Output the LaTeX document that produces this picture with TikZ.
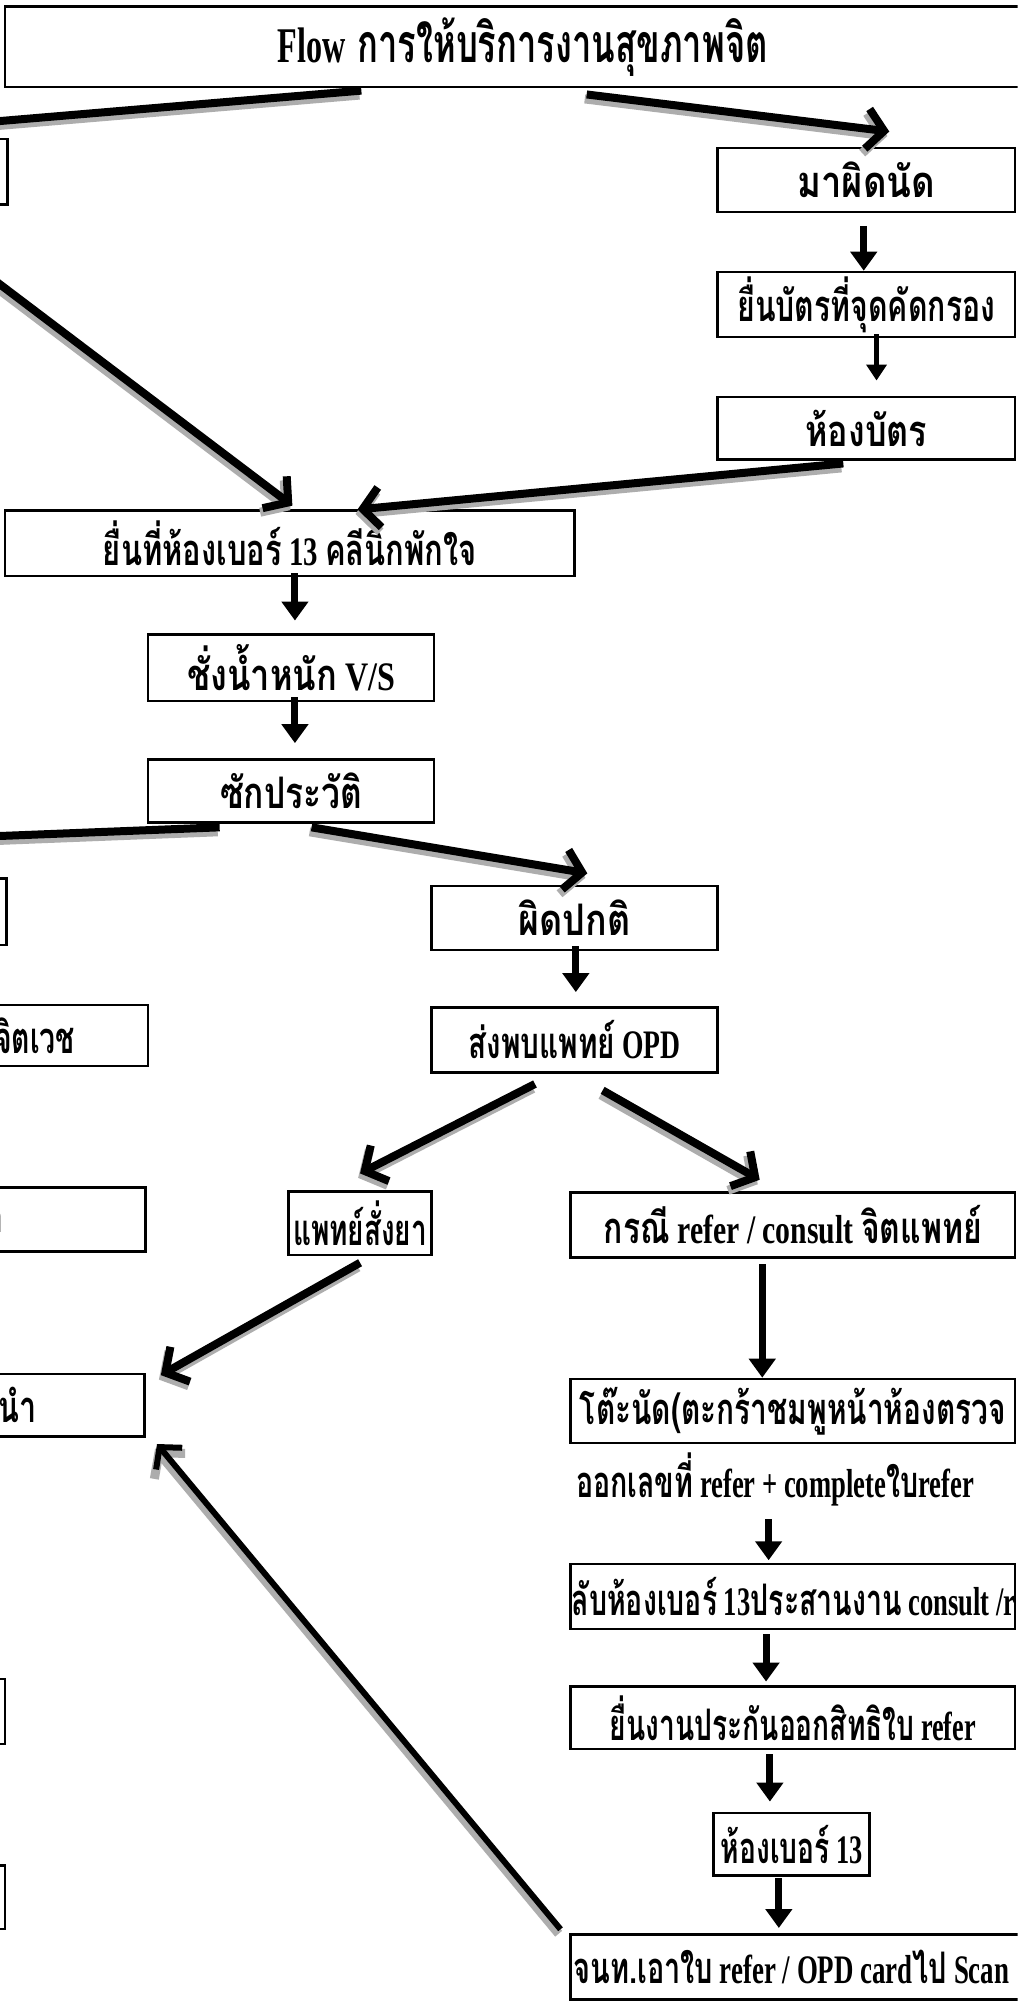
\documentclass[tikz,border=0pt]{standalone}
\usepackage{fontspec}
\usepackage{graphicx}
\setmainfont{Liberation Serif}[Scale=1.35]
\newfontfamily\thf[Script=Thai,Scale=1.45]{Loma}
\usetikzlibrary{arrows.meta,calc}
\newcommand\tha[1]{{\thf #1}}
\newcommand\fw[2]{\resizebox{#1pt}{\height}{#2}}
\tikzset{
  x=1.2773pt, y=-1.2773pt,
  boxfont/.style={font=\bfseries\fontsize{30}{34}\selectfont},
  box/.style={draw=black, line width=2.5pt, inner sep=0pt, boxfont},
  lbl/.style={inner sep=0pt, boxfont},
  bigarrow/.style={line width=8pt, -{Straight Barb[length=17pt,width=40pt]}},
  thinarrow/.style={line width=6pt, -{Straight Barb[length=15pt,width=34pt]}},
  shadowline/.style={draw=black!32, line width=9pt, -{Straight Barb[length=17pt,width=40pt]}},
  varrow/.style={line width=7pt, -{Triangle[length=19pt,width=26pt]}},
  varrowb/.style={line width=5.5pt, -{Triangle[length=16pt,width=20pt]}},
}
\newcommand\bx[6]{\node[box,minimum width=#4*1.2773pt,minimum height=#5*1.2773pt] (#1) at (#2,#3) {#6};}
\newcommand\sarrow[3][bigarrow]{%
  \draw[shadowline] ($#2+(-1.5,3.5)$) -- ($#3+(-1.5,3.5)$);
  \draw[#1] #2 -- #3;}
\begin{document}
\begin{tikzpicture}
\clip (0,0) rectangle (797,1568);
\fill[white] (0,0) rectangle (797,1568);
% boxes
\node[box,minimum width=811*1.2773pt,minimum height=63*1.2773pt,font=\bfseries\fontsize{37}{40}\selectfont] (title) at (409.5,36.5)
  {\fw{490}{Flow\hspace{18pt}\tha{การให้บริการงานสุขภาพจิต}}};
\bx{L1}{-97}{134.5}{206}{51}{}
\bx{ma}{678.5}{141}{233}{50}{\fw{138}{\tha{มาผิดนัด}}}
\bx{yb}{678.5}{238.5}{233}{51}{\fw{258}{\tha{ยื่นบัตรที่จุดคัดกรอง}}}
\bx{hb}{678.5}{335.5}{233}{49}{\fw{122}{\tha{ห้องบัตร}}}
\bx{y13}{227}{425.5}{446}{51}{\fw{374}{\tha{ยื่นที่ห้องเบอร์} 13 \tha{คลีนิกพักใจ}}}
\bx{vs}{228}{523}{224}{52}{\fw{208}{\tha{ชั่งน้ำหนัก}\hspace{10pt}V/S}}
\bx{sak}{228}{619.5}{224}{49}{\fw{142}{\tha{ซักประวัติ}}}
\bx{L2}{-97.5}{714}{205}{52}{}
\bx{pp}{450}{719}{224}{50}{\fw{112}{\tha{ผิดปกติ}}}
\bx{opd}{450}{814.5}{224}{51}{\fw{212}{\tha{ส่งพบแพทย์} OPD}}
\bx{L3}{-17}{811}{266}{48}{}
\bx{L4}{-18}{955}{264}{50}{}
\bx{sy}{282}{958}{112}{50}{\fw{134}{\tha{แพทย์สั่งยา}}}
\bx{kr}{621}{959.5}{348}{51}{\fw{378}{\tha{กรณี} refer / consult \tha{จิตแพทย์}}}
\bx{L5}{-18.5}{1100.5}{263}{49}{}
\bx{tn}{621}{1105}{348}{50}{\fw{426}{\tha{โต๊ะนัด(ตะกร้าชมพูหน้าห้องตรวจ}}}
\node[lbl,minimum height=30*1.2773pt] (ok) at (607,1159) {\fw{398}{\tha{ออกเลขที่} refer + complete\tha{ใบ}refer}};
\bx{lb}{621}{1250.5}{348}{51}{}
\bx{yn}{621}{1345.5}{348}{49}{\fw{366}{\tha{ยื่นงานประกันออกสิทธิใบ} refer}}
\bx{L6}{-73}{1340.5}{154}{51}{}
\bx{h13}{620}{1444.5}{122}{49}{\fw{142}{\tha{ห้องเบอร์} 13}}
\bx{L7}{-73}{1486}{154}{50}{}
\bx{jn}{626}{1540.5}{358}{51}{}
% texts placed by edge
\node[lbl,anchor=west] (lbt) at ($(lb.west)+(1.5,0)$) {\fw{444}{\tha{ลับห้องเบอร์} 13\tha{ประสานงาน} consult /r}};
\node[lbl,anchor=west] (jnt) at ($(jn.west)+(3,0)$) {\fw{436}{\tha{จนท.เอาใบ} refer / OPD card\tha{ไป} Scan}};
\node[lbl,anchor=east] (L3t) at ($(L3.east)+(-58,0)$) {\fw{80}{\tha{จิตเวช}}};
\node[lbl,anchor=east] (L4t) at ($(L4.east)+(-111,1)$) {\tha{า}};
\node[lbl,anchor=east] (L5t) at ($(L5.east)+(-85,0)$) {\fw{38}{\tha{นำ}}};
% diagonal arrows
\sarrow{($(title.south west)+(280,2)$)}{($(L1.north)+(35,-8)$)}
\sarrow{($(title.south)+(50,5)$)}{($(ma.north)+(18,-12)$)}
\sarrow{($(hb.south)+(-18,2)$)}{($(y13.north)+(53,0)$)}
\sarrow{($(L1.south)+(22,5)$)}{($(y13.north)+(2,-3)$)}
\sarrow{($(sak.south west)+(57,3)$)}{($(L2.north)+(40,-30)$)}
\sarrow{($(sak.south)+(16,3)$)}{($(pp.north)+(10,-9)$)}
\sarrow{($(opd.south)+(-31,8)$)}{($(sy.north)+(0,-13)$)}
\sarrow{($(opd.south)+(22,13)$)}{($(kr.north)+(-26,-9)$)}
\sarrow{($(sy.south)+(0,5)$)}{($(L5.north east)+(12,2)$)}
\sarrow[thinarrow]{($(jn.north west)+(-7,-3)$)}{($(L5.south east)+(9,5)$)}
% vertical arrows
\draw[varrow] ($(ma.south)+(-2,10)$) -- ($(yb.north)+(-2,0)$);
\draw[varrowb] ($(yb.south)+(8,-3)$) -- ($(hb.north)+(8,-12)$);
\draw[varrow] ($(y13.south)+(4,-3)$) -- ($(vs.north)+(3,-10)$);
\draw[varrow] ($(vs.south)+(3,-4)$) -- ($(sak.north)+(3,-12)$);
\draw[varrow] ($(pp.south)+(1,-4)$) -- ($(opd.north)+(1,-11)$);
\draw[varrow] ($(kr.south)+(-24,4)$) -- ($(tn.north)+(-24,0)$);
\draw[varrow] ($(ok.south)+(-5,10)$) -- ($(lb.north)+(-19,-2)$);
\draw[varrow] ($(lb.south)+(-21,3)$) -- ($(yn.north)+(-21,-3)$);
\draw[varrow] ($(yn.south)+(-18,3)$) -- ($(h13.north)+(-17,-8)$);
\draw[varrow] ($(h13.south)+(-10,1)$) -- ($(jn.north)+(-16,-4)$);
\end{tikzpicture}
\end{document}
